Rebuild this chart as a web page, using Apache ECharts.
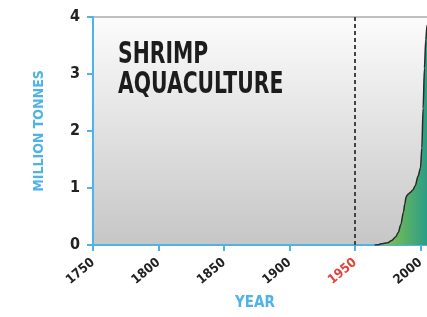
<!DOCTYPE html>
<html>
<head>
<meta charset="utf-8">
<script src="https://cdn.jsdelivr.net/npm/echarts@6/dist/echarts.min.js"></script>
<style>
  html, body { margin: 0; padding: 0; background: #fff; }
  #main { width: 427px; height: 317px; }
</style>
</head>
<body>
<div id="main"></div>
<script>
// 数据
var years = [1965, 1968, 1970, 1975, 1978, 1981, 1983, 1985, 1987, 1988, 1989, 1990, 1991, 1992, 1994, 1996, 1998, 2000, 2001, 2002, 2003, 2004, 2005, 2008, 2010];
var tonnes = [0, 0.005, 0.02, 0.04, 0.08, 0.14, 0.22, 0.36, 0.58, 0.72, 0.84, 0.88, 0.9, 0.92, 0.96, 1.04, 1.2, 1.35, 1.7, 2.4, 3.1, 3.6, 3.85, 3.95, 4.0];
var yTicks = [0, 1, 2, 3, 4];
var markYear = 1950;

;(function(){
    var chart = echarts.init(document.getElementById('main'));
    var blue = '#4fb3e8';
    var labelFont = '"DejaVu Sans Condensed", sans-serif';

    var option = {
        animation: false,
        grid: {
            left: 93,
            top: 17,
            width: 393,
            height: 228,
            outerBoundsMode: 'none',
            containLabel: false,
            show: true,
            borderColor: '#808080',
            borderWidth: 1,
            backgroundColor: new echarts.graphic.LinearGradient(0, 0, 0, 1, [
                { offset: 0, color: '#fcfcfc' },
                { offset: 1, color: '#c6c6c6' }
            ])
        },
        xAxis: {
            type: 'value',
            min: 1750,
            max: 2050,
            interval: 50,
            splitLine: { show: false },
            axisLine: { lineStyle: { color: blue, width: 2 } },
            axisTick: { show: true, length: 6, lineStyle: { color: blue, width: 2 } },
            axisLabel: {
                rotate: 40,
                margin: 16,
                fontFamily: labelFont,
                fontWeight: 'bold',
                fontSize: 13,
                color: '#222',
                formatter: function (v) {
                    return v === markYear ? '{r|' + v + '}' : String(v);
                },
                rich: {
                    r: { color: '#e5413a', fontFamily: labelFont, fontWeight: 'bold', fontSize: 13 }
                }
            }
        },
        yAxis: {
            type: 'value',
            min: yTicks[0],
            max: yTicks[yTicks.length - 1],
            interval: 1,
            name: 'MILLION TONNES',
            nameLocation: 'middle',
            nameGap: 47,
            nameTextStyle: { color: blue, fontFamily: labelFont, fontWeight: 'bold', fontSize: 14 },
            splitLine: { show: false },
            axisLine: { show: true, lineStyle: { color: blue, width: 2 } },
            axisTick: { show: true, length: 6, lineStyle: { color: blue, width: 2 } },
            axisLabel: {
                margin: 13,
                fontFamily: labelFont,
                fontWeight: 'bold',
                fontSize: 16,
                color: '#222'
            }
        },
        graphic: [
            {
                type: 'text',
                x: 118,
                y: 40,
                scaleX: 0.73,
                style: {
                    text: 'SHRIMP\nAQUACULTURE',
                    font: 'bold 31px "DejaVu Sans Condensed"',
                    lineHeight: 30,
                    fill: '#1c1c1c'
                }
            },
            {
                type: 'text',
                x: 255,
                y: 303,
                style: {
                    text: 'YEAR',
                    font: 'bold 15px "DejaVu Sans Condensed"',
                    fill: blue,
                    align: 'center',
                    verticalAlign: 'middle'
                }
            }
        ],
        series: [{
            type: 'line',
            data: years.map(function (y, i) { return [y, tonnes[i]]; }),
            symbol: 'none',
            smooth: 0.3,
            smoothMonotone: 'x',
            lineStyle: { color: '#2a2a2a', width: 1.5 },
            areaStyle: {
                opacity: 1,
                color: new echarts.graphic.LinearGradient(0, 0, 1, 0, [
                    { offset: 0, color: '#a9cf3b' },
                    { offset: 0.3, color: '#72bc55' },
                    { offset: 1, color: '#1f978f' }
                ])
            },
            markLine: {
                silent: true,
                symbol: 'none',
                label: { show: false },
                lineStyle: { color: '#444', width: 2, type: [4, 3] },
                data: [{ xAxis: markYear }]
            }
        }]
    };

    chart.setOption(option);
})()
</script>
</body>
</html>
